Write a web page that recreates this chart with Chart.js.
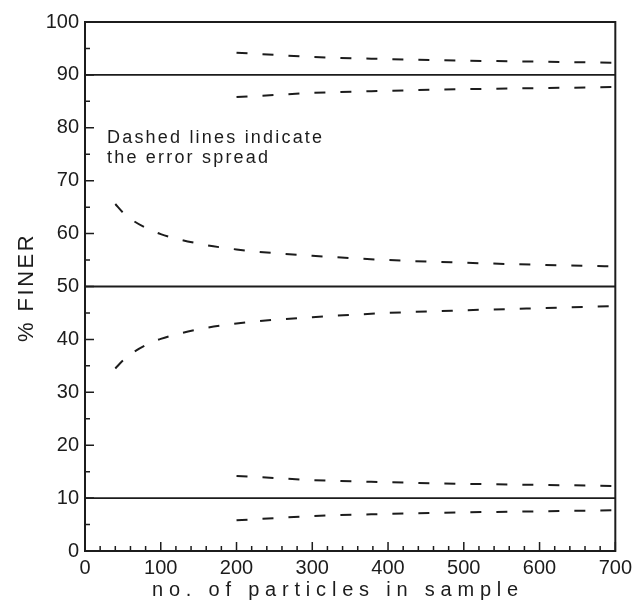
<!doctype html>
<html lang="en">
<head>
    <meta charset="utf-8">
    <title>% finer vs number of particles</title>
    <script src="https://cdn.jsdelivr.net/npm/chart.js@4.4.1/dist/chart.umd.min.js"></script>
    <style>
        html, body { margin: 0; padding: 0; background: #fff; }
        #wrap { width: 637px; height: 601px; }
    </style>
</head>
<body>
<div id="wrap">
    <canvas id="myChart" width="637" height="601"></canvas>
</div>
<script type="text/javascript">
    // reference levels (solid lines)
    const levelX = [0, 700]
    const levels = [90, 50, 10]

    // error spread around 90 % and 10 %
    const nShort = [200, 250, 300, 400, 500, 600, 700]
    const upper90 = [94.2, 93.8, 93.4, 93.0, 92.7, 92.5, 92.3]
    const lower90 = [85.8, 86.2, 86.6, 87.0, 87.3, 87.5, 87.7]
    const upper10 = [14.2, 13.8, 13.4, 13.0, 12.7, 12.5, 12.3]
    const lower10 = [5.8, 6.2, 6.6, 7.0, 7.3, 7.5, 7.7]

    // error spread around 50 %
    const nLong = [40, 50, 60, 80, 100, 150, 200, 250, 300, 400, 500, 600, 700]
    const upper50 = [65.6, 64.0, 62.8, 61.1, 59.9, 58.1, 57.0, 56.3, 55.8, 55.0, 54.5, 54.1, 53.8]
    const lower50 = [34.5, 36.0, 37.2, 38.9, 40.1, 41.9, 43.0, 43.7, 44.2, 45.0, 45.5, 45.9, 46.3]

    const xTicks = [0, 100, 200, 300, 400, 500, 600, 700]
    const yTicks = [0, 10, 20, 30, 40, 50, 60, 70, 80, 90, 100]

    const xTitle = 'no. of particles in sample'
    const yTitle = '% FINER'
    const noteLines = ['Dashed lines indicate', 'the error spread']

    const ink = '#1c1c1c'
    const fontFamily = '"Liberation Sans", Arial, sans-serif'

    function pts(xs, ys) {
        return xs.map((v, i) => ({x: v, y: ys[i]}))
    }

    function dashed(xs, ys) {
        return {
            data: pts(xs, ys),
            borderColor: ink,
            borderWidth: 2,
            borderDash: [11, 15],
            pointRadius: 0,
            cubicInterpolationMode: 'monotone',
            fill: false
        }
    }

    const datasets = []
    levels.forEach(lv => {
        datasets.push({
            data: pts(levelX, levelX.map(() => lv)),
            borderColor: ink,
            borderWidth: 1.8,
            pointRadius: 0,
            fill: false
        })
    })
    datasets.push(dashed(nShort, upper90))
    datasets.push(dashed(nShort, lower90))
    datasets.push(dashed(nLong, upper50))
    datasets.push(dashed(nLong, lower50))
    datasets.push(dashed(nShort, upper10))
    datasets.push(dashed(nShort, lower10))

    // frame, inward ticks, titles and the note
    const decorations = {
        id: 'decorations',
        afterDraw(chart) {
            const {ctx, chartArea: a, scales: {x, y}} = chart
            ctx.save()
            ctx.strokeStyle = ink
            ctx.lineWidth = 2
            ctx.strokeRect(a.left, a.top, a.right - a.left, a.bottom - a.top)

            ctx.lineWidth = 1.5
            ctx.beginPath()
            for (let v = 0; v <= 700; v += 20) {
                const px = x.getPixelForValue(v)
                const len = v % 100 === 0 ? 9 : 5
                ctx.moveTo(px, a.bottom)
                ctx.lineTo(px, a.bottom - len)
            }
            for (let v = 0; v <= 100; v += 5) {
                const py = y.getPixelForValue(v)
                const len = v % 10 === 0 ? 9 : 5
                ctx.moveTo(a.left, py)
                ctx.lineTo(a.left + len, py)
            }
            ctx.stroke()

            ctx.fillStyle = ink
            ctx.textBaseline = 'alphabetic'

            // note
            ctx.font = '18px ' + fontFamily
            ctx.letterSpacing = '2.2px'
            ctx.textAlign = 'left'
            noteLines.forEach((t, i) => {
                ctx.fillText(t, x.getPixelForValue(29), y.getPixelForValue(77.1) + i * 20)
            })

            // x title
            ctx.font = '20px ' + fontFamily
            ctx.letterSpacing = '5.8px'
            ctx.textAlign = 'center'
            ctx.fillText(xTitle, x.getPixelForValue(330) + 3, 596)

            // y title
            ctx.font = '22px ' + fontFamily
            ctx.letterSpacing = '2.5px'
            ctx.translate(33, y.getPixelForValue(50) + 1)
            ctx.rotate(-Math.PI / 2)
            ctx.fillText(yTitle, 0, 0)
            ctx.restore()
        }
    }

    const config = {
        type: 'line',
        data: {datasets: datasets},
        options: {
            responsive: false,
            maintainAspectRatio: false,
            animation: false,
            layout: {padding: {left: 0, right: 20, top: 22, bottom: 0}},
            plugins: {
                legend: {display: false},
                tooltip: {enabled: false}
            },
            scales: {
                x: {
                    type: 'linear',
                    min: 0,
                    max: 700,
                    afterBuildTicks: s => { s.ticks = xTicks.map(v => ({value: v})) },
                    afterFit: s => { s.height = 50 },
                    grid: {display: false, drawTicks: false},
                    border: {display: true, color: ink, width: 2},
                    ticks: {color: ink, font: {family: fontFamily, size: 20}, padding: 5, maxRotation: 0}
                },
                y: {
                    type: 'linear',
                    min: 0,
                    max: 100,
                    afterBuildTicks: s => { s.ticks = yTicks.map(v => ({value: v})) },
                    afterFit: s => { s.width = 85 },
                    grid: {display: false, drawTicks: false},
                    border: {display: true, color: ink, width: 2},
                    ticks: {color: ink, font: {family: fontFamily, size: 20}, padding: 6}
                }
            }
        },
        plugins: [decorations]
    }

    const myChart = new Chart(document.getElementById('myChart'), config)
</script>
</body>
</html>
